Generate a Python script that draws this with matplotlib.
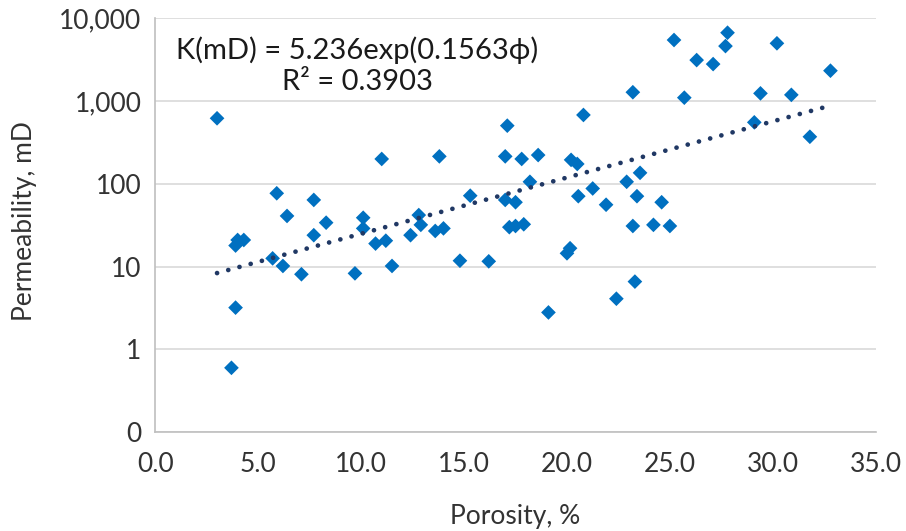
import numpy as np
import matplotlib
matplotlib.use('Agg')
from matplotlib import pyplot as plt
from matplotlib.ticker import FixedLocator, FuncFormatter, NullLocator

# data porositas (%) dan permeabilitas (mD)
porosity = [3.0, 3.7, 3.9, 3.9, 4.0, 4.3, 5.7, 5.9, 6.2, 6.4, 7.1, 7.7, 7.7, 8.3,
            9.7, 10.1, 10.1, 10.7, 11.0, 11.2, 11.5, 12.4, 12.8, 12.9, 13.6, 13.8,
            14.0, 14.8, 15.3, 16.2, 17.0, 17.0, 17.1, 17.2, 17.5, 17.5, 17.8, 17.9,
            18.2, 18.6, 19.1, 20.0, 20.15, 20.2, 20.5, 20.55, 20.8, 21.25, 21.9,
            22.4, 22.9, 23.2, 23.2, 23.3, 23.4, 23.55, 24.2, 24.6, 25.0, 25.2,
            25.7, 26.3, 27.1, 27.7, 27.8, 29.1, 29.4, 30.2, 30.9, 31.8, 32.8]
permeability = [620, 0.60, 3.2, 18, 21, 21, 12.6, 77, 10.2, 41, 8.1, 24, 64, 34,
                8.3, 29, 39, 19, 200, 20.6, 10.2, 24, 42, 32, 27, 215,
                29, 11.8, 72, 11.6, 64, 215, 505, 30, 60, 31, 200, 32.5,
                106, 223, 2.8, 14.5, 16.7, 195, 174, 71, 680, 88, 56,
                4.1, 106, 1280, 31, 6.6, 71, 136, 32, 60, 31, 5470,
                1100, 3130, 2800, 4620, 6700, 554, 1240, 4990, 1190, 371, 2330]

# koefisien trendline eksponensial
coef_a = 5.236
coef_b = 0.1563
trend_range = [3.0, 32.8]

x_ticks = [0, 5, 10, 15, 20, 25, 30, 35]
y_ticks = [0.1, 1, 10, 100, 1000, 10000]

plt.rcParams['font.family'] = ['Lato', 'DejaVu Sans']
text_color = '#333333'
fs = 19

fig = plt.figure(figsize=(9.06, 5.31), dpi=100)
ax = fig.add_axes([0.1714, 0.186, 0.7952, 0.7795])

# titik data
ax.scatter(porosity, permeability, marker='D', s=56, color='#0070C0',
           edgecolors='none', zorder=3)

# garis trend
xt = np.linspace(trend_range[0], trend_range[1], 200)
ax.plot(xt, coef_a * np.exp(coef_b * xt), color='#203864', lw=3.4,
        dashes=(0.01, 2.45), dash_capstyle='round', zorder=4)

ax.set_yscale('log')
ax.set_xlim(0, 35)
ax.set_ylim(0.1, 10000)
ax.xaxis.set_major_locator(FixedLocator(x_ticks))
ax.yaxis.set_major_locator(FixedLocator(y_ticks))
ax.yaxis.set_minor_locator(NullLocator())
ax.xaxis.set_major_formatter(FuncFormatter(lambda v, p: '%.1f' % v))
ax.yaxis.set_major_formatter(FuncFormatter(lambda v, p: '0' if v < 1 else '{:,.0f}'.format(v)))

ax.grid(axis='y', color='#D9D9D9', lw=1.2)
ax.set_axisbelow(True)
for s in ['top', 'right']:
    ax.spines[s].set_visible(False)
for s in ['left', 'bottom']:
    ax.spines[s].set_color('#BFBFBF')
    ax.spines[s].set_linewidth(1.2)
ax.tick_params(length=0, labelsize=fs, labelcolor=text_color)
ax.tick_params(axis='x', pad=14)
ax.tick_params(axis='y', pad=10)

# label sumbu
ax.set_xlabel('Porosity, %', fontsize=fs, color=text_color, va='center')
ax.xaxis.set_label_coords(0.5, -0.2046)
ax.set_ylabel('Permeability, mD', fontsize=fs, color=text_color, va='center')
ax.yaxis.set_label_coords(-0.1816, 0.51)

# persamaan trendline
fig.text(357 / 906, 1 - 66 / 531, 'K(mD) = 5.236exp(0.1563ϕ)\nR² = 0.3903',
         ha='center', va='center', fontsize=21, color='#1a1a1a',
         linespacing=1.25)

plt.savefig('out.png', dpi=100)
